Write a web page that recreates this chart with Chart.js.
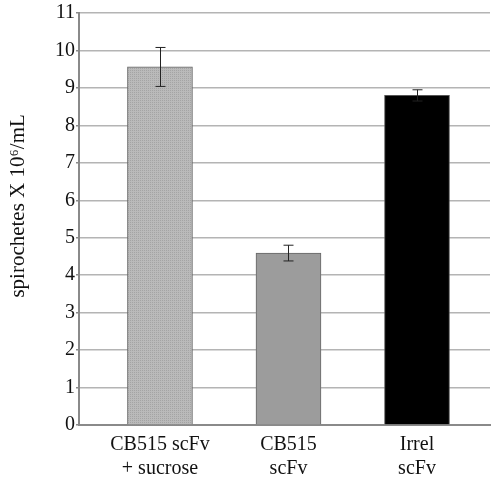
<!DOCTYPE html>
<html>
<head>
<meta charset="utf-8">
<script src="https://cdn.jsdelivr.net/npm/chart.js@4"></script>
<style>
  html, body { margin: 0; padding: 0; background: #fff; }
  #wrap { width: 493px; height: 479px; }
</style>
</head>
<body>
<div id="wrap"><canvas id="spiroChart"></canvas></div>
<script>
// data
const groups = [["CB515 scFv", "+ sucrose"], ["CB515", "scFv"], ["Irrel", "scFv"]];
const counts = [9.56, 4.59, 8.8];
const errors = [0.52, 0.21, 0.15];
const yTicks = [0, 1, 2, 3, 4, 5, 6, 7, 8, 9, 10, 11];

// dotted light grey fill of the first bar
function makePattern() {
  const c = document.createElement('canvas');
  c.width = 4; c.height = 4;
  const g = c.getContext('2d');
  g.fillStyle = '#bababa';
  g.fillRect(0, 0, 4, 4);
  g.fillStyle = '#a4a4a4';
  g.fillRect(0, 0, 1, 1);
  g.fillRect(2, 2, 1, 1);
  g.fillRect(2, 0, 1, 1);
  g.fillRect(0, 2, 1, 1);
  return g.createPattern(c, 'repeat');
}

const errorBars = {
  id: 'errorBars',
  afterDatasetsDraw(chart) {
    const { ctx, scales: { x, y } } = chart;
    ctx.save();
    ctx.strokeStyle = '#222';
    ctx.lineWidth = 1;
    counts.forEach((v, i) => {
      const px = Math.round(x.getPixelForValue(i)) + 0.5;
      const top = y.getPixelForValue(v + errors[i]);
      const bot = y.getPixelForValue(v - errors[i]);
      ctx.beginPath();
      ctx.moveTo(px, top); ctx.lineTo(px, bot);
      ctx.moveTo(px - 5, top); ctx.lineTo(px + 5, top);
      ctx.moveTo(px - 5, bot); ctx.lineTo(px + 5, bot);
      ctx.stroke();
    });
    ctx.restore();
  }
};

new Chart(document.getElementById('spiroChart'), {
  type: 'bar',
  data: {
    datasets: [{
      data: counts.map((v, i) => ({ x: i, y: v })),
      backgroundColor: [makePattern(), '#9c9c9c', '#000000'],
      borderColor: ['#666', '#666', '#555'],
      borderWidth: 1,
      barThickness: 65
    }]
  },
  options: {
    responsive: true,
    maintainAspectRatio: false,
    animation: false,
    layout: { padding: { left: 0, right: 3, top: 12, bottom: 0 } },
    plugins: { legend: { display: false }, tooltip: { enabled: false } },
    scales: {
      x: {
        type: 'linear',
        offset: false,
        min: -0.63,
        max: 2.568,
        afterBuildTicks: (s) => { s.ticks = groups.map((g, i) => ({ value: i })); },
        afterFit: (s) => { s.height = 54; },
        grid: { display: false, offset: false },
        border: { display: true, color: '#8a8a8a', width: 2 },
        ticks: {
          color: '#111',
          padding: 0,
          maxRotation: 0,
          autoSkip: false,
          font: { family: 'Liberation Serif', size: 20, lineHeight: 1.2 },
          callback: (v) => groups[v]
        }
      },
      y: {
        min: 0,
        max: 11,
        afterBuildTicks: (s) => { s.ticks = yTicks.map(v => ({ value: v })); },
        afterFit: (s) => { s.width = 79; },
        grid: { color: '#b4b4b4', lineWidth: 1.5, tickLength: 3, tickColor: '#8a8a8a' },
        border: { display: true, color: '#8a8a8a', width: 2 },
        ticks: {
          color: '#111',
          padding: 1,
          font: { family: 'Liberation Serif', size: 20 }
        },
        title: {
          display: true,
          text: '     spirochetes X 10\u2076/mL',
          color: '#111',
          padding: { top: 6, bottom: 4 },
          font: { family: 'Liberation Serif', size: 21 }
        }
      }
    }
  },
  plugins: [errorBars]
});
</script>
</body>
</html>
